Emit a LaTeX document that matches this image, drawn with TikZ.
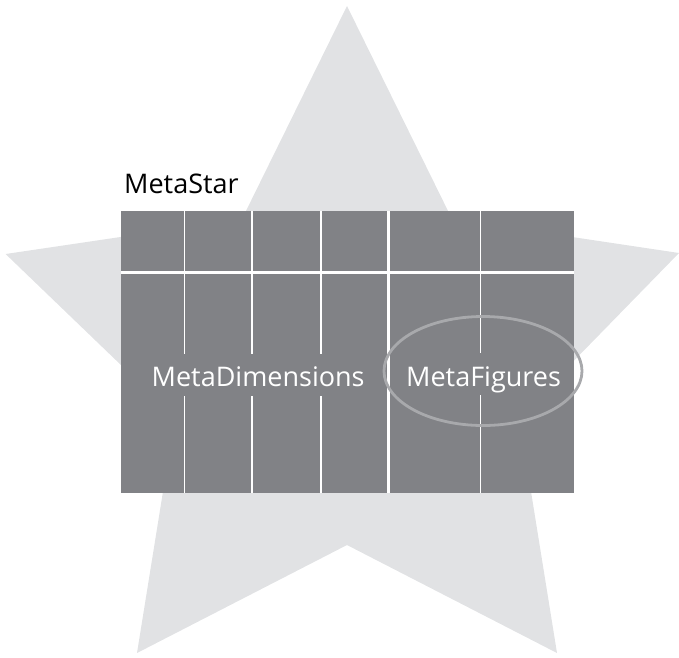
\documentclass[tikz,border=0pt]{standalone}
\usepackage{fontspec}
\setmainfont{Open Sans}
\definecolor{starfill}{HTML}{E1E2E4}
\definecolor{gridfill}{HTML}{818286}
\definecolor{ringcol}{HTML}{A8A9AC}
\begin{document}
\begin{tikzpicture}[x=1pt,y=-1pt,
  gridline/.style={draw=white,line width=1.4pt},
  mainline/.style={draw=white,line width=2.2pt},
  lbl/.style={inner sep=0pt,anchor=base west,font=\fontsize{27}{32}\selectfont}]
\useasboundingbox (0,0) rectangle (679,657);
% star
\fill[starfill] (347,6) -- (452,219) -- (679,253) -- (519,417) -- (557,653)
  -- (347,545) -- (137,653) -- (175,417) -- (5.6,254) -- (242,219) -- cycle;
% grid block
\fill[gridfill] (121,211) rectangle (574,493);
\draw[mainline] (121,272.5) -- (574,272.5);
\draw[mainline] (388.5,211) -- (388.5,493);
\foreach \x in {184.5,252,321}{
  \draw[gridline] (\x,211) -- (\x,354);
  \draw[gridline] (\x,396) -- (\x,493);
}
\draw[gridline] (480.5,211) -- (480.5,353);
\draw[gridline] (480.5,395) -- (480.5,493);
% ring
\draw[ringcol,line width=2.8pt] (483,371) ellipse [x radius=99,y radius=54.5];
% labels
\node[lbl,text=black] (star) at (124,193) {MetaStar};
\node[lbl,text=white] (dims) at (151.5,386) {MetaDimensions};
\node[lbl,text=white] (figs) at (406,386) {MetaFigures};
\end{tikzpicture}
\end{document}
